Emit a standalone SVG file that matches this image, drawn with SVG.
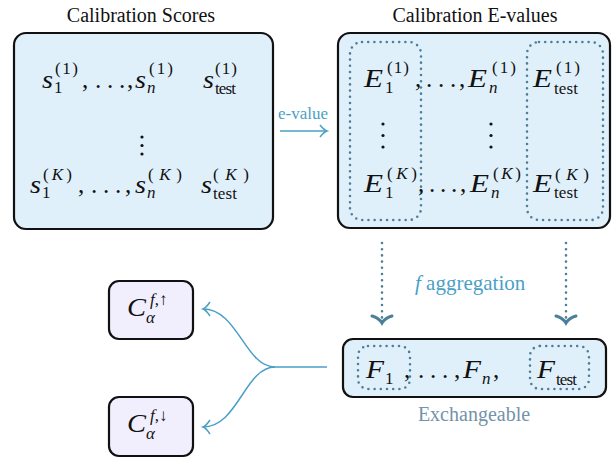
<svg xmlns="http://www.w3.org/2000/svg" width="613" height="460" viewBox="0 0 613 460">
<style>
text{font-family:"Liberation Serif","Times New Roman",Times,"DejaVu Serif",serif}
.title{font-size:20px;fill:#111;text-anchor:middle}
.m{font-style:italic;font-size:25px;fill:#111}
.r{font-size:25px;fill:#111}
.s{font-size:17px;fill:#111}
.si{font-style:italic;font-size:17px;fill:#111}
.box{fill:#e0f0fa;stroke:#111;stroke-width:2.2}
.cbox{fill:#f1effd;stroke:#111;stroke-width:2.2}
.dot{fill:none;stroke:#4d7f9a;stroke-width:2.6;stroke-dasharray:0 6.2;stroke-linecap:round}
.conn{fill:none;stroke:#4b9fc6;stroke-width:1.5}
.darr{fill:none;stroke:#4d7f9a;stroke-width:3;stroke-linecap:round}
.lbl{fill:#4b9fc6}
</style>

<text class="title" x="141" y="22">Calibration Scores</text>
<text class="title" x="475" y="22">Calibration E-values</text>

<g id="scores">
<rect class="box" x="14" y="33" width="259" height="196" rx="12"/>
<text class="m" x="42" y="88" textLength="11" lengthAdjust="spacingAndGlyphs">s</text>
<text class="s" x="54" y="93">1</text>
<text class="s" x="55" y="74" textLength="23">(1)</text>
<text class="r" x="82 95 107 119 127" y="88">,...,</text>
<text class="m" x="135" y="88" textLength="11" lengthAdjust="spacingAndGlyphs">s</text>
<text class="si" x="147" y="93">n</text>
<text class="s" x="149" y="74" textLength="24">(1)</text>
<text class="m" x="203" y="88" textLength="11" lengthAdjust="spacingAndGlyphs">s</text>
<text class="s" x="215" y="94" textLength="21">test</text>
<text class="s" x="215" y="74" textLength="22">(1)</text>
<circle cx="142" cy="137" r="1.6" fill="#111"/>
<circle cx="142" cy="145.5" r="1.6" fill="#111"/>
<circle cx="142" cy="154" r="1.6" fill="#111"/>
<text class="m" x="30" y="193" textLength="11" lengthAdjust="spacingAndGlyphs">s</text>
<text class="s" x="42" y="198">1</text>
<text class="s" x="43" y="180" textLength="29">(<tspan font-style="italic">K</tspan>)</text>
<text class="r" x="78 91 103 115 125" y="193">,...,</text>
<text class="m" x="135" y="193" textLength="11" lengthAdjust="spacingAndGlyphs">s</text>
<text class="si" x="147" y="198">n</text>
<text class="s" x="148" y="180" textLength="34">(<tspan font-style="italic">K</tspan>)</text>
<text class="m" x="201" y="193" textLength="11" lengthAdjust="spacingAndGlyphs">s</text>
<text class="s" x="213" y="199" textLength="24">test</text>
<text class="s" x="213" y="180" textLength="36">(<tspan font-style="italic">K</tspan>)</text>
</g>

<g id="evalues">
<rect class="box" x="338" y="33" width="272" height="195" rx="12"/>
<rect class="dot" x="350" y="42" width="71" height="178" rx="12"/>
<rect class="dot" x="527" y="42" width="76" height="178" rx="12"/>
<text class="m" x="364" y="87" textLength="19" lengthAdjust="spacingAndGlyphs">E</text>
<text class="s" x="385" y="93">1</text>
<text class="s" x="387" y="73" textLength="22">(1)</text>
<text class="r" x="415 426 438 450 459" y="87">,...,</text>
<text class="m" x="468" y="87" textLength="19" lengthAdjust="spacingAndGlyphs">E</text>
<text class="si" x="489" y="93">n</text>
<text class="s" x="492" y="73" textLength="24">(1)</text>
<text class="m" x="533" y="87" textLength="19" lengthAdjust="spacingAndGlyphs">E</text>
<text class="s" x="554" y="94" textLength="24">test</text>
<text class="s" x="556" y="73" textLength="24">(1)</text>
<circle cx="383" cy="124" r="1.6" fill="#111"/>
<circle cx="383" cy="135.5" r="1.6" fill="#111"/>
<circle cx="383" cy="147" r="1.6" fill="#111"/>
<circle cx="491" cy="124" r="1.6" fill="#111"/>
<circle cx="491" cy="135.5" r="1.6" fill="#111"/>
<circle cx="491" cy="147" r="1.6" fill="#111"/>
<text class="m" x="364" y="192" textLength="19" lengthAdjust="spacingAndGlyphs">E</text>
<text class="s" x="385" y="198">1</text>
<text class="s" x="387" y="179" textLength="30">(<tspan font-style="italic">K</tspan>)</text>
<text class="r" x="418 429 440 451 460" y="192">,...,</text>
<text class="m" x="470" y="192" textLength="19" lengthAdjust="spacingAndGlyphs">E</text>
<text class="si" x="491" y="198">n</text>
<text class="s" x="493" y="179" textLength="28">(<tspan font-style="italic">K</tspan>)</text>
<text class="m" x="533" y="192" textLength="19" lengthAdjust="spacingAndGlyphs">E</text>
<text class="s" x="554" y="198" textLength="24">test</text>
<text class="s" x="555" y="180" textLength="34">(<tspan font-style="italic">K</tspan>)</text>
</g>

<g id="fvalues">
<rect class="box" x="343" y="339" width="263" height="58" rx="10"/>
<rect class="dot" x="358" y="346" width="52" height="43" rx="10"/>
<rect class="dot" x="530" y="346" width="59" height="43" rx="10"/>
<text class="m" x="366" y="378" textLength="18" lengthAdjust="spacingAndGlyphs">F</text>
<text class="s" x="385" y="384">1</text>
<text class="r" x="404 418 430 442 454" y="378">,...,</text>
<text class="m" x="463" y="378" textLength="18" lengthAdjust="spacingAndGlyphs">F</text>
<text class="si" x="482" y="384">n</text>
<text class="r" x="493" y="378">,</text>
<text class="m" x="537" y="378" textLength="18" lengthAdjust="spacingAndGlyphs">F</text>
<text class="s" x="556" y="385" textLength="21">test</text>
</g>

<g id="cup">
<rect class="cbox" x="109" y="281" width="84" height="58" rx="10"/>
<text class="m" x="127" y="316" textLength="19" lengthAdjust="spacingAndGlyphs">C</text>
<text class="si" x="146" y="323">α</text>
<text class="si" x="150" y="305">f<tspan font-style="normal">,↑</tspan></text>
</g>

<g id="cdown">
<rect class="cbox" x="109" y="397" width="84" height="59" rx="10"/>
<text class="m" x="127" y="432" textLength="19" lengthAdjust="spacingAndGlyphs">C</text>
<text class="si" x="146" y="439">α</text>
<text class="si" x="150" y="421">f<tspan font-style="normal">,↓</tspan></text>
</g>

<g id="connectors">
<text class="lbl" x="278" y="119" font-size="17">e-value</text>
<path class="conn" d="M280,131 H327"/>
<path class="conn" d="M320,125 Q324,130 327,131 Q324,132 320,137"/>
<path class="dot" d="M382,243 V318"/>
<path class="darr" d="M372,316 Q379,318 382,323 Q385,318 392,316"/>
<path class="dot" d="M566,243 V318"/>
<path class="darr" d="M556,316 Q563,318 566,323 Q569,318 576,316"/>
<text class="lbl" x="415" y="290" font-size="21"><tspan font-style="italic">f</tspan> aggregation</text>
<path class="conn" d="M327,367 H275 C245,367 238,309 203,309"/>
<path class="conn" d="M275,367 C245,367 238,427 203,427"/>
<path class="conn" d="M210,302 Q206,308 203,309 Q206,310 210,316"/>
<path class="conn" d="M210,420 Q206,426 203,427 Q206,428 210,434"/>
<text x="474" y="421" font-size="20" fill="#7393aa" text-anchor="middle">Exchangeable</text>
</g>
</svg>
